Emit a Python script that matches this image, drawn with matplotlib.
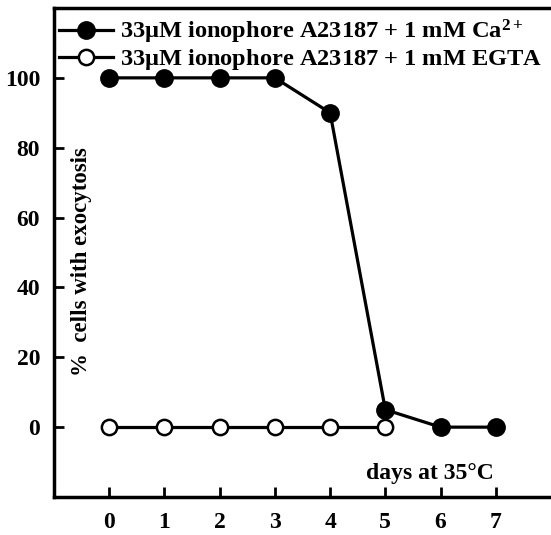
import matplotlib
matplotlib.use("Agg")
import matplotlib.pyplot as plt

days = [0, 1, 2, 3, 4, 5, 6, 7]
ca_values = [100, 100, 100, 100, 90, 5, 0, 0]
egta_days = [0, 1, 2, 3, 4, 5]
egta_values = [0, 0, 0, 0, 0, 0]
x_ticks = [0, 1, 2, 3, 4, 5, 6, 7]
y_ticks = [0, 20, 40, 60, 80, 100]
label_ca = r"33$\mathbf{\mu}$M ionophore A23187 + 1 mM Ca$^{\mathbf{2+}}$"
label_egta = r"33$\mathbf{\mu}$M ionophore A23187 + 1 mM EGTA"

plt.rcParams['font.family'] = ['Liberation Serif', 'DejaVu Serif']
plt.rcParams['font.weight'] = 'bold'
plt.rcParams['mathtext.fontset'] = 'custom'
plt.rcParams['mathtext.rm'] = 'Liberation Serif:bold'
plt.rcParams['mathtext.bf'] = 'Liberation Serif:bold'
plt.rcParams['mathtext.it'] = 'Liberation Serif:bold'

W, H = 551, 535
fig = plt.figure(figsize=(W / 100, H / 100), dpi=100)
ax = fig.add_axes([54 / W, (H - 497) / H, (W - 54) / W, (497 - 8) / H])

ax.plot(egta_days, egta_values, color='black', lw=2.3, marker='o', ms=11,
        mfc='white', mec='black', mew=1.8, label=label_egta, zorder=2)
ax.plot(days, ca_values, color='black', lw=2.3, marker='o', ms=12.5,
        mfc='black', mec='black', label=label_ca, zorder=3)

ax.set_xlim(-1, 8)
ax.set_ylim(-20, 120)
ax.set_xticks(x_ticks)
ax.set_yticks(y_ticks)
ax.tick_params(axis='both', direction='in', width=2, length=7, labelsize=17)
ax.tick_params(axis='x', pad=11)
ax.tick_params(axis='y', pad=10)
for lab in ax.get_xticklabels() + ax.get_yticklabels():
    lab.set_fontweight('bold')
for s in ['left', 'bottom', 'top']:
    ax.spines[s].set_linewidth(2.5)
ax.spines['right'].set_visible(False)

ax.text(82, 535 - 262, "%  cells with exocytosis", transform=None, rotation=90,
        ha='center', va='center', fontsize=16.5, fontweight='bold')
ax.text(5.81, -13.4, "days at 35°C", ha='center', va='center', fontsize=17,
        fontweight='bold')

handles, labels = ax.get_legend_handles_labels()
leg = ax.legend(handles[::-1], labels[::-1], loc='upper left', frameon=False,
                handlelength=2.2, handletextpad=0.3,
                borderaxespad=0.0, borderpad=0.25, labelspacing=0.05,
                bbox_to_anchor=(-0.002, 0.992),
                prop={'weight': 'bold', 'size': 17.6})

fig.savefig("out.png", dpi=100)
